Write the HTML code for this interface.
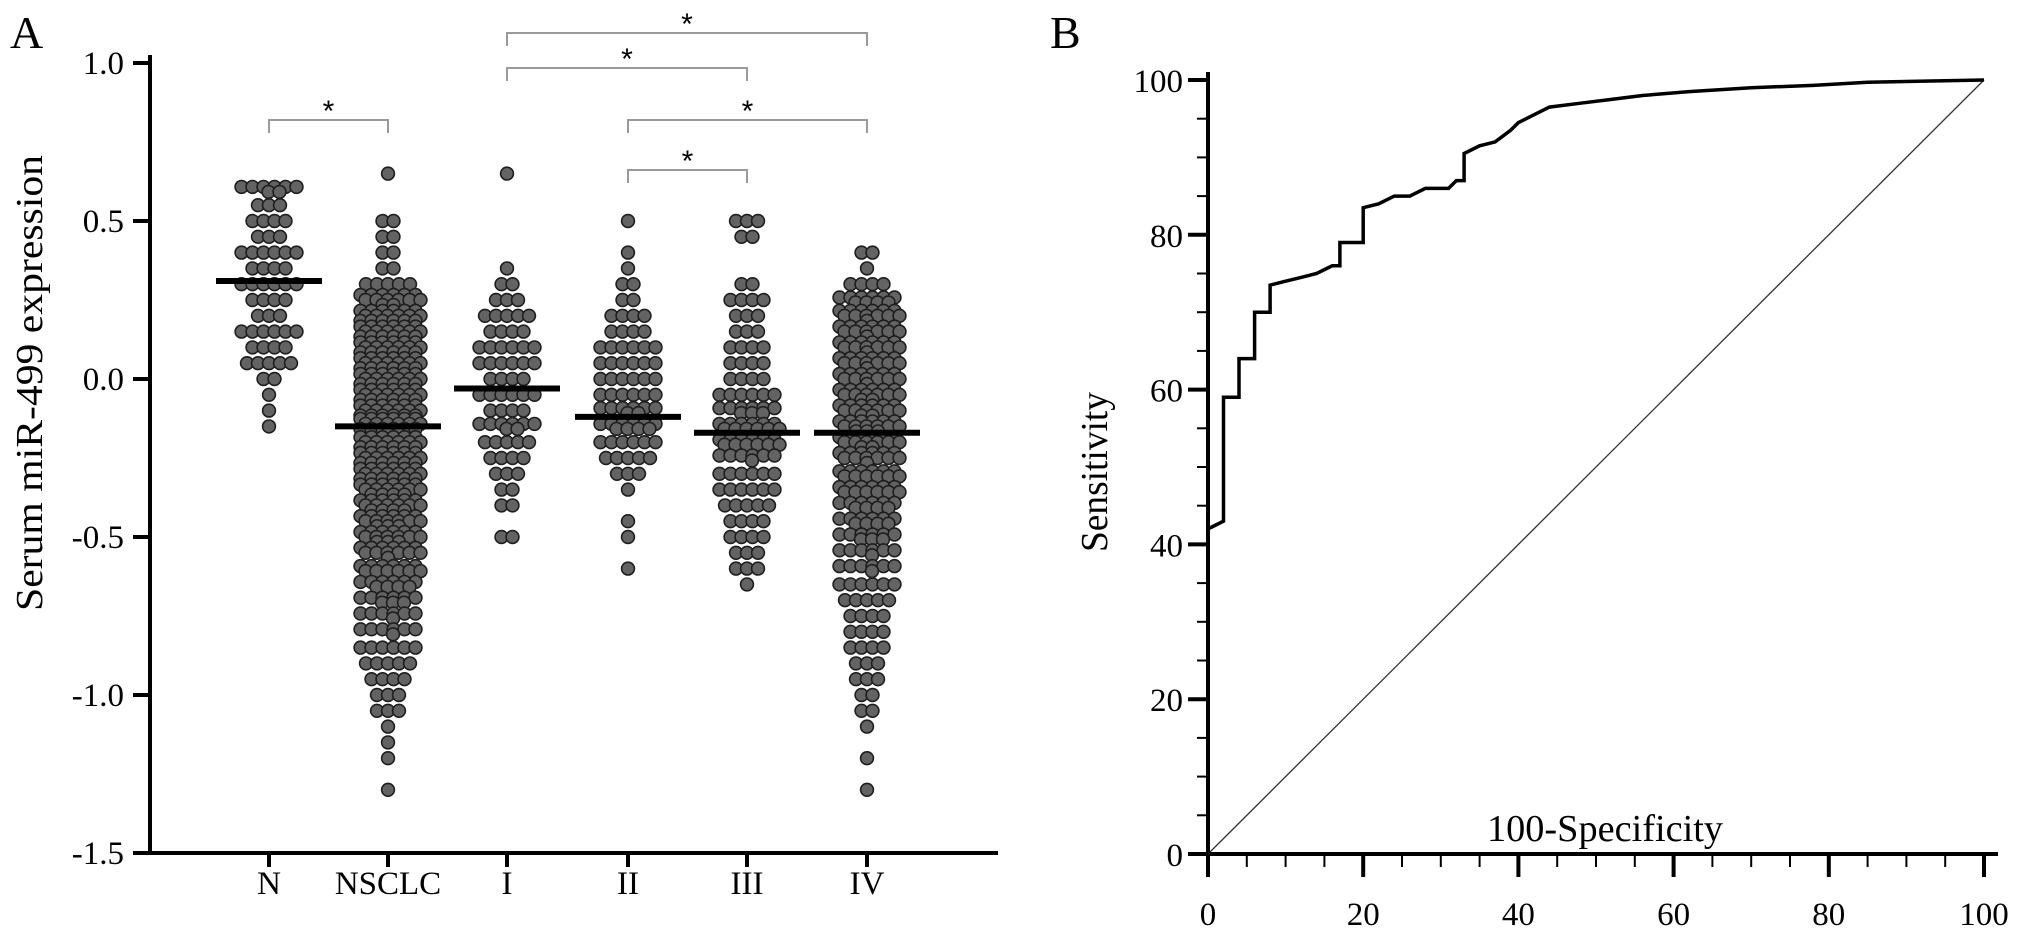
<!DOCTYPE html>
<html><head><meta charset="utf-8">
<style>
html,body{margin:0;padding:0;background:#fff;}
svg{display:block;font-family:"Liberation Serif","DejaVu Serif",serif;}
</style></head>
<body>
<svg id="fig" width="2031" height="935" viewBox="0 0 2031 935" xmlns="http://www.w3.org/2000/svg">
  <g id="panelA"></g>
  <g id="panelB"></g>
</svg>
<script>
// ---------- Panel A data ----------
const categories = ["N","NSCLC","I","II","III","IV"];
const binValues = [0.65,0.6,0.55,0.5,0.45,0.4,0.35,0.3,0.25,0.2,0.15,0.1,0.05,0,-0.05,-0.1,-0.15,-0.2,-0.25,-0.3,-0.35,-0.4,-0.45,-0.5,-0.55,-0.6,-0.65,-0.7,-0.75,-0.8,-0.85,-0.9,-0.95,-1.0,-1.05,-1.1,-1.15,-1.2,-1.25,-1.3];
const countsN     = [0,8,3,4,3,6,4,6,4,3,6,4,5,2,1,1,1,0,0,0,0,0,0,0,0,0,0,0,0,0,0,0,0,0,0,0,0,0,0,0];
const countsNSCLC = [1,0,0,2,2,2,2,5,14,18,18,18,18,18,18,18,20,18,18,18,16,16,15,15,13,12,10,9,7,7,6,5,4,3,3,1,1,1,0,1];
const countsI     = [1,0,0,0,0,0,1,2,3,5,4,6,6,4,6,4,8,5,4,3,2,2,0,2,0,0,0,0,0,0,0,0,0,0,0,0,0,0,0,0];
const countsII    = [0,0,0,1,0,1,1,2,2,4,4,6,6,6,6,8,10,6,5,3,1,0,1,1,0,1,0,0,0,0,0,0,0,0,0,0,0,0,0,0];
const countsIII   = [0,0,0,3,2,0,0,2,4,3,3,4,4,4,6,9,12,12,7,6,6,5,4,4,3,3,1,0,0,0,0,0,0,0,0,0,0,0,0,0];
const countsIV    = [0,0,0,0,0,2,1,4,10,13,13,13,13,13,14,14,15,14,13,12,12,10,10,9,7,7,6,5,4,4,4,3,3,2,2,1,0,1,0,1];
const medians = [0.31,-0.15,-0.03,-0.12,-0.17,-0.17];
const yTicksA = [1.0,0.5,0.0,-0.5,-1.0,-1.5];
const yTickLabelsA = ["1.0","0.5","0.0","-0.5","-1.0","-1.5"];
const bracketFrom = [0,2,2,3,3];
const bracketTo   = [1,5,4,5,4];
const bracketLevel= [120,33,68,120,170];

// ---------- Panel B data ----------
const rocFpr = [0,0,1,2,2,4,4,6,6,8,8,10,12,14,16,17,17,20,20,22,24,26,28,31,32,33,33,35,37,39,40,42,44,48,52,56,62,70,78,85,100];
const rocTpr = [0,42,42.5,43,59,59,64,64,70,70,73.5,74,74.5,75,76,76,79,79,83.5,84,85,85,86,86,87,87,90.5,91.5,92,93.5,94.5,95.5,96.5,97,97.5,98,98.5,99,99.3,99.7,100];
const xTicksB = [0,20,40,60,80,100];
const yTicksB = [0,20,40,60,80,100];

const NS="http://www.w3.org/2000/svg";
function mk(tag, attrs, parent){const e=document.createElementNS(NS,tag);for(const k in attrs)e.setAttribute(k,attrs[k]);parent.appendChild(e);return e;}

// ---------- Panel A ----------
const A=document.getElementById('panelA');
const axL=150, axR=998, axT=55, axB=853;
const catX=[269,388,507,628,747,867];
function yA(v){return 379 - v*316;}
function xA(i){return catX[i];}

let t=mk('text',{x:10,y:48,'font-size':46},A);t.textContent='A';



let e=mk('line',{x1:axL,y1:axT,x2:axL,y2:axB+2,stroke:'#000','stroke-width':4},A);


e=mk('line',{x1:axL-2,y1:axB,x2:axR,y2:axB,stroke:'#000','stroke-width':4},A);



yTicksA.forEach((v,i)=>{
  const l=mk('line',{x1:axL-17,y1:yA(v),x2:axL,y2:yA(v),stroke:'#000','stroke-width':4},A);
  
  
  const tx=mk('text',{x:124,y:yA(v)+11,'font-size':33,'text-anchor':'end'},A);
  tx.textContent=yTickLabelsA[i];
  
  
});
t=mk('text',{x:0,y:0,'font-size':38,'text-anchor':'middle',transform:'translate(42,383) rotate(-90)',textLength:456,lengthAdjust:'spacingAndGlyphs'},A);
t.textContent='Serum miR-499 expression';



const allCounts=[countsN,countsNSCLC,countsI,countsII,countsIII,countsIV];
categories.forEach((c,i)=>{
  const tk=mk('line',{x1:xA(i),y1:axB,x2:xA(i),y2:axB+14,stroke:'#000','stroke-width':4},A);
  
  
  const lb=mk('text',{x:xA(i),y:894,'font-size':33,'text-anchor':'middle'},A);
  lb.textContent=c;
  
  
  const g=mk('g',{},A);
  
  
  const counts=allCounts[i];
  binValues.forEach((bv,b)=>{
    const n=counts[b]; if(!n) return;
    const rows=Math.ceil(n/6);
    let k=0;
    for(let r=0;r<rows;r++){
      const inRow=Math.min(6,n-k);
      const yy=yA(bv)+(rows>1?(r-(rows-1)/2)*5:0);
      for(let j=0;j<inRow;j++){
        const xx=xA(i)+(j-(inRow-1)/2)*11+(r%2?5:0);
        const d=mk('circle',{cx:xx,cy:yy,r:6.4,fill:'#636363',stroke:'#1e1e1e','stroke-width':1.6},g);
        
        
        k++;
      }
    }
  });
  const m=mk('line',{x1:xA(i)-53,y1:yA(medians[i]),x2:xA(i)+53,y2:yA(medians[i]),stroke:'#000','stroke-width':6},A);
  
  
});

bracketFrom.forEach((f,i)=>{
  const x1=xA(f), x2=xA(bracketTo[i]), y=bracketLevel[i];
  const p=mk('path',{d:`M${x1},${y+13}V${y}H${x2}V${y+13}`,fill:'none',stroke:'#9a9a9a','stroke-width':2},A);
  
  
  const s=mk('text',{x:(x1+x2)/2,y:y+1,'font-size':30,'text-anchor':'middle','font-family':'Liberation Sans, sans-serif'},A);
  s.textContent='*';
  
  
});

// ---------- Panel B ----------
const B=document.getElementById('panelB');
const bx0=1208,bx1=1984,by0=854,by1=80;
function xB(v){return bx0+(bx1-bx0)*v/100;}
function yB(v){return by0-(by0-by1)*v/100;}

t=mk('text',{x:1050,y:48,'font-size':46},B);t.textContent='B';



e=mk('line',{x1:bx0,y1:yB(100)-8,x2:bx0,y2:by0+2,stroke:'#000','stroke-width':4},B);


e=mk('line',{x1:bx0-12,y1:by0,x2:xB(100)+14,y2:by0,stroke:'#000','stroke-width':4},B);



for(let v=0;v<=100;v+=5){
  const major=v%20===0;
  const yl=mk('line',{x1:bx0-(major?20:11),y1:yB(v),x2:bx0,y2:yB(v),stroke:'#000','stroke-width':major?4:2},B);
  
  
  const xl=mk('line',{x1:xB(v),y1:by0,x2:xB(v),y2:by0+(major?23:13),stroke:'#000','stroke-width':major?4:2},B);
  
  
}
yTicksB.forEach(v=>{
  const tx=mk('text',{x:1183,y:yB(v)+12,'font-size':33,'text-anchor':'end'},B);
  tx.textContent=String(v);
  
  
});
xTicksB.forEach(v=>{
  const tx=mk('text',{x:xB(v),y:925,'font-size':33,'text-anchor':'middle'},B);
  tx.textContent=String(v);
  
  
});
t=mk('text',{x:0,y:0,'font-size':38,'text-anchor':'middle',transform:'translate(1107,472) rotate(-90)',textLength:160,lengthAdjust:'spacingAndGlyphs'},B);
t.textContent='Sensitivity';


t=mk('text',{x:1605,y:841,'font-size':38,'text-anchor':'middle',textLength:236,lengthAdjust:'spacingAndGlyphs'},B);
t.textContent='100-Specificity';



e=mk('line',{x1:xB(0),y1:yB(0),x2:xB(100),y2:yB(100),stroke:'#333','stroke-width':1.3},B);



let d='';
rocFpr.forEach((f,i)=>{d+=(i?'L':'M')+xB(f).toFixed(1)+','+yB(rocTpr[i]).toFixed(1);});
e=mk('path',{d:d,fill:'none',stroke:'#000','stroke-width':3.5,'stroke-linejoin':'miter'},B);


</script>
</body></html>
